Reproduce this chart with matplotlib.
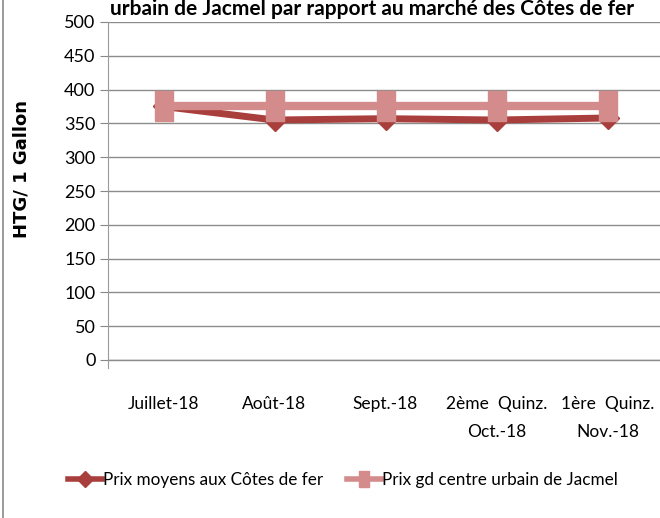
import numpy as np
import matplotlib.pyplot as plt
from matplotlib.lines import Line2D

plt.rcParams['font.family'] = ['Lato', 'DejaVu Sans']

# données
mois = ['Juillet-18', 'Août-18', 'Sept.-18', '2ème  Quinz.\nOct.-18', '1ère  Quinz.\nNov.-18']
prix_cotes_de_fer = [375, 355, 357, 355, 358]
prix_jacmel = [375, 375, 375, 375, 375]
y_ticks = [0, 50, 100, 150, 200, 250, 300, 350, 400, 450, 500]

titre = "urbain de Jacmel par rapport au marché des Côtes de fer"
label_y = "HTG/ 1 Gallon"
noms_series = ['Prix moyens aux Côtes de fer', 'Prix gd centre urbain de Jacmel']

fig = plt.figure(figsize=(6.6, 5.18), dpi=100)
ax = fig.add_axes([108 / 660, 1 - 360 / 518, 555 / 660, 338 / 518])

x = np.arange(len(mois))
carre = [(-0.6, -1), (0.6, -1), (0.6, 1), (-0.6, 1), (-0.6, -1)]

ax.plot(x, prix_cotes_de_fer, color='#A93F3C', lw=5, marker='D',
        markersize=11, label=noms_series[0], zorder=3, clip_on=False)
ax.plot(x, prix_jacmel, color='#D38C8B', lw=6, marker=carre,
        markersize=22, label=noms_series[1], zorder=4, clip_on=False)

ax.set_xlim(-0.5, len(mois) - 0.5)
ax.set_ylim(0, 500)
ax.set_yticks(y_ticks)
ax.set_xticks(x)
ax.set_xticklabels(mois, linespacing=1.9)
ax.tick_params(axis='y', labelsize=13, length=6, color='#888888', pad=3)
ax.tick_params(axis='x', labelsize=12.5, length=0, pad=26)
ax.yaxis.grid(True, color='#8c8c8c', lw=1)
ax.axhline(0, color='#8c8c8c', lw=1, clip_on=False, zorder=1)
ax.set_axisbelow(True)
for s in ['top', 'right', 'bottom']:
    ax.spines[s].set_visible(False)
ax.spines['left'].set_color('#9a9a9a')
ax.spines['left'].set_bounds(-12, 500)

fig.text(22 / 660, 1 - 169 / 518, label_y, rotation=90, ha='center', va='center',
         fontsize=13, fontweight='bold', family=['DejaVu Sans'])
fig.text(372 / 660, 1 - 15 / 518, titre, ha='center', va='baseline',
         fontsize=15, fontweight='bold')

leg = fig.legend(loc='center', bbox_to_anchor=(0.52, 1 - 480 / 518), ncol=2, frameon=False,
                 fontsize=12.3, handlelength=2.0, handletextpad=0.05, columnspacing=1.4)
for h, ms in zip(leg.legend_handles, [8, 11]):
    h.set_markersize(ms)
    h.set_linewidth(4)

fig.add_artist(Line2D([3 / 660, 3 / 660], [0, 1], transform=fig.transFigure,
                      color='#8a8a8a', lw=1.2))

fig.savefig('out.png', dpi=100)
